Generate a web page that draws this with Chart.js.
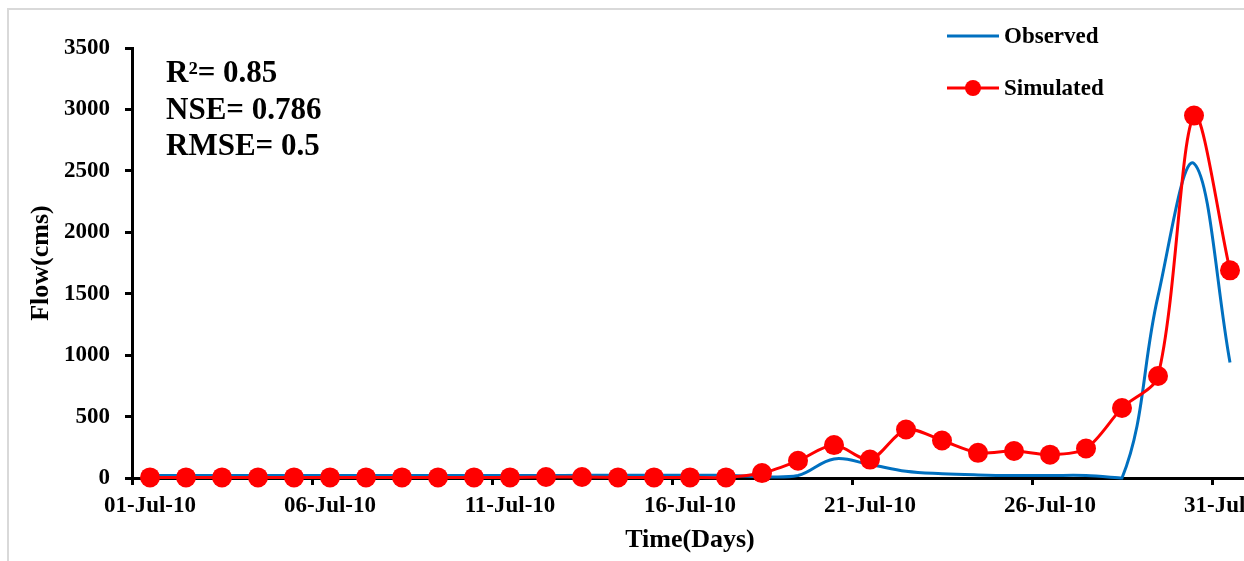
<!DOCTYPE html>
<html>
<head>
<meta charset="utf-8">
<script src="https://cdn.jsdelivr.net/npm/chart.js@4/dist/chart.umd.min.js"></script>
<style>
  html, body { margin: 0; padding: 0; background: #fff; overflow: hidden; width: 1244px; height: 561px; }
  #frame { position: absolute; left: 7px; top: 8px; width: 1400px; height: 700px;
           border-left: 2px solid #d9d9d9; border-top: 2px solid #d9d9d9; }
  #wrap { position: absolute; left: 0; top: 0; }
</style>
</head>
<body>
<div id="frame"></div>
<div id="wrap"><canvas id="flowChart" width="1300" height="561"></canvas></div>
<script>
const days = [
  '01-Jul-10', '02-Jul-10', '03-Jul-10', '04-Jul-10', '05-Jul-10', '06-Jul-10', '07-Jul-10',
  '08-Jul-10', '09-Jul-10', '10-Jul-10', '11-Jul-10', '12-Jul-10', '13-Jul-10', '14-Jul-10',
  '15-Jul-10', '16-Jul-10', '17-Jul-10', '18-Jul-10', '19-Jul-10', '20-Jul-10', '21-Jul-10',
  '22-Jul-10', '23-Jul-10', '24-Jul-10', '25-Jul-10', '26-Jul-10', '27-Jul-10', '28-Jul-10',
  '29-Jul-10', '30-Jul-10', '31-Jul-10'
];
const observed = [20, 20, 20, 20, 20, 20, 20, 20, 20, 20, 20, 20, 22, 22, 22, 22, 22,
  10, 20, 155, 110, 55, 35, 25, 20, 20, 20, 0, 1480, 2560, 940];
const simulated = [5, 5, 5, 5, 5, 5, 5, 5, 5, 5, 5, 8, 8, 5, 5, 5, 5,
  40, 140, 268, 150, 395, 305, 205, 220, 190, 240, 570, 830, 2950, 1690];
const stats = ['R\u00B2= 0.85', 'NSE= 0.786', 'RMSE= 0.5'];
const yTicks = { min: 0, max: 3500, step: 500 };

const serif = "'Liberation Serif', 'Times New Roman', serif";

// legend and fit statistics drawn on top of the chart
const overlay = {
  id: 'overlay',
  afterDraw(chart) {
    const ctx = chart.ctx;
    ctx.save();
    ctx.fillStyle = '#000';
    ctx.textBaseline = 'middle';
    ctx.font = 'bold 31px ' + serif;
    stats.forEach((s, i) => ctx.fillText(s, 166, 74 + i * 36.5));

    const ds = chart.data.datasets;
    ctx.font = 'bold 23px ' + serif;
    ctx.lineWidth = 3;
    ds.forEach((d, i) => {
      const y = 36 + i * 52;
      ctx.strokeStyle = d.borderColor;
      ctx.beginPath();
      ctx.moveTo(947, y);
      ctx.lineTo(999, y);
      ctx.stroke();
      if (d.pointRadius > 0) {
        ctx.fillStyle = d.pointBackgroundColor;
        ctx.beginPath();
        ctx.arc(973, y, 8, 0, Math.PI * 2);
        ctx.fill();
      }
      ctx.fillStyle = '#000';
      ctx.fillText(d.label, 1004, y + 1);
    });
    ctx.restore();
  }
};

new Chart(document.getElementById('flowChart'), {
  type: 'line',
  data: {
    labels: days,
    datasets: [
      {
        label: 'Observed',
        data: observed,
        borderColor: '#0070C0',
        borderWidth: 3,
        pointRadius: 0,
        tension: 0.38,
        clip: false,
        order: 2
      },
      {
        label: 'Simulated',
        data: simulated,
        borderColor: '#FF0000',
        backgroundColor: '#FF0000',
        pointBackgroundColor: '#FF0000',
        pointBorderColor: '#FF0000',
        borderWidth: 3,
        pointRadius: 10,
        pointBorderWidth: 0,
        tension: 0.3,
        clip: false,
        order: 1
      }
    ]
  },
  options: {
    responsive: false,
    animation: false,
    devicePixelRatio: 1,
    layout: { padding: { left: 0, top: 48, right: 52, bottom: 0 } },
    plugins: {
      legend: { display: false },
      tooltip: { enabled: false }
    },
    scales: {
      x: {
        offset: true,
        afterFit: s => { s.height = 83; },
        grid: {
          offset: true,
          drawOnChartArea: false,
          drawTicks: true,
          tickLength: 7,
          tickWidth: 3,
          tickColor: c => (c.index % 5 === 0 ? '#000' : 'rgba(0,0,0,0)')
        },
        border: { color: '#000', width: 3 },
        ticks: {
          autoSkip: false,
          maxRotation: 0,
          padding: 7,
          color: '#000',
          font: { family: serif, size: 23, weight: 'bold' },
          callback: function (v, i) { return i % 5 === 0 ? days[i] : ''; }
        },
        title: {
          display: true,
          text: 'Time(Days)',
          color: '#000',
          padding: { top: 0, bottom: 5 },
          font: { family: serif, size: 26, weight: 'bold' }
        }
      },
      y: {
        min: yTicks.min,
        max: yTicks.max,
        afterFit: s => { s.width = 132; },
        grid: {
          drawOnChartArea: false,
          drawTicks: true,
          tickLength: 7,
          tickWidth: 3,
          tickColor: '#000'
        },
        border: { color: '#000', width: 3 },
        ticks: {
          stepSize: yTicks.step,
          padding: 15,
          color: '#000',
          font: { family: serif, size: 23, weight: 'bold' },
          callback: v => String(v)
        },
        title: {
          display: true,
          text: 'Flow(cms)',
          color: '#000',
          padding: { top: 26, bottom: 0 },
          font: { family: serif, size: 26, weight: 'bold' }
        }
      }
    }
  },
  plugins: [overlay]
});
</script>
</body>
</html>
